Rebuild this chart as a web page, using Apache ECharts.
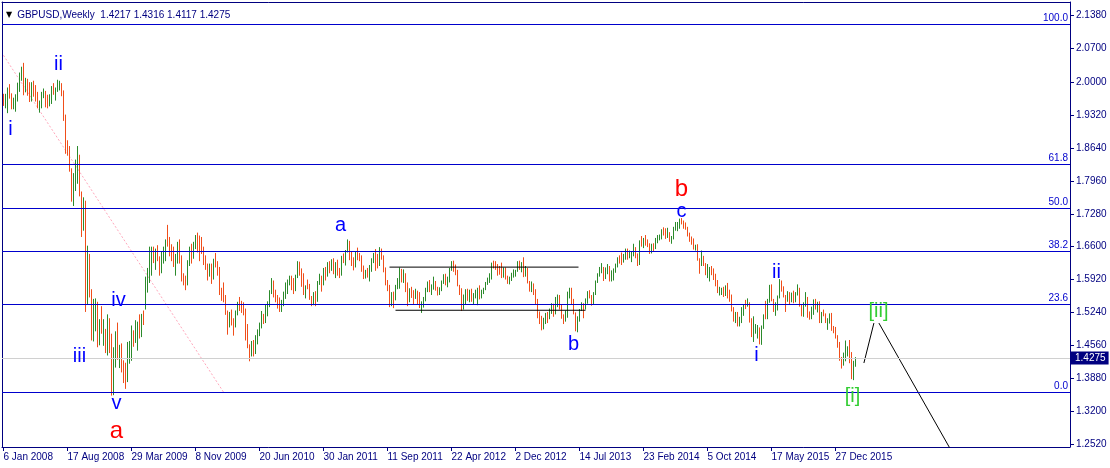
<!DOCTYPE html>
<html><head><meta charset="utf-8">
<script src="https://cdn.jsdelivr.net/npm/echarts/dist/echarts.min.js"></script>
<style>html,body{margin:0;padding:0;background:#fff}#c{width:1110px;height:468px}</style>
</head><body><div id="c"></div>
<script>
// ---- data (weekly GBPUSD bars, week 0 = 6 Jan 2008) ----
const symbolName = 'GBPUSD';
const timeframe = 'Weekly';
const opens = [
1.973,1.955,1.960,1.988,1.975,1.948,1.961,1.972,1.987,2.016,2.028,1.986,2.006,1.982,1.970,1.995,1.977,1.972,1.950,1.955,1.975,1.981,1.968,1.955,1.970,1.990,1.980,1.985,1.992,1.996,1.981,1.930,1.865,1.860,1.820,1.770,1.790,1.822,1.844,1.770,1.720,1.735,1.560,1.615,1.565,1.478,1.496,1.536,1.466,1.510,1.470,1.482,
1.452,1.504,1.468,1.371,1.447,1.480,1.430,1.445,1.415,1.404,1.390,1.422,1.445,1.480,1.470,1.455,1.505,1.478,1.513,1.535,1.590,1.600,1.618,1.648,1.640,1.650,1.636,1.615,1.646,1.650,1.670,1.668,1.655,1.650,1.630,1.636,1.665,1.630,1.598,1.590,1.588,1.630,1.655,1.646,1.665,1.668,1.660,1.655,1.650,1.627,1.615,1.605,
1.615,1.600,1.630,1.620,1.612,1.563,1.562,1.554,1.520,1.507,1.510,1.502,1.497,1.523,1.540,1.537,1.536,1.530,1.480,1.452,1.440,1.452,1.446,1.467,1.480,1.502,1.519,1.510,1.528,1.540,1.568,1.590,1.560,1.553,1.550,1.545,1.547,1.565,1.580,1.588,1.596,1.588,1.570,1.600,1.625,1.607,1.600,1.563,1.578,1.577,1.553,1.546,
1.560,1.550,1.586,1.595,1.585,1.613,1.600,1.624,1.614,1.632,1.606,1.624,1.606,1.604,1.634,1.633,1.651,1.670,1.640,1.629,1.626,1.646,1.642,1.638,1.619,1.598,1.606,1.601,1.615,1.629,1.645,1.637,1.628,1.649,1.640,1.615,1.586,1.575,1.542,1.560,1.552,1.579,1.589,1.610,1.600,1.601,1.580,1.548,1.564,1.558,1.555,1.569,
1.554,1.535,1.538,1.553,1.571,1.581,1.576,1.580,1.584,1.573,1.565,1.571,1.590,1.599,1.587,1.590,1.613,1.625,1.615,1.610,1.580,1.568,1.534,1.558,1.569,1.558,1.567,1.550,1.559,1.561,1.571,1.563,1.564,1.573,1.585,1.590,1.598,1.624,1.623,1.616,1.614,1.609,1.603,1.614,1.597,1.586,1.592,1.602,1.603,1.611,1.625,1.620,
1.624,1.607,1.608,1.586,1.571,1.583,1.565,1.548,1.519,1.504,1.492,1.511,1.520,1.519,1.530,1.536,1.530,1.551,1.555,1.536,1.518,1.515,1.520,1.567,1.570,1.549,1.521,1.488,1.507,1.530,1.538,1.536,1.550,1.565,1.559,1.549,1.564,1.587,1.602,1.612,1.616,1.596,1.615,1.618,1.591,1.600,1.613,1.621,1.637,1.636,1.630,1.636,
1.647,1.642,1.643,1.644,1.648,1.644,1.633,1.668,1.665,1.675,1.672,1.663,1.649,1.664,1.657,1.674,1.679,1.681,1.688,1.686,1.679,1.684,1.675,1.681,1.697,1.701,1.703,1.715,1.711,1.708,1.698,1.683,1.679,1.669,1.657,1.660,1.632,1.626,1.632,1.621,1.606,1.605,1.610,1.608,1.599,1.585,1.565,1.566,1.571,1.566,1.571,1.569,
1.558,1.527,1.512,1.518,1.500,1.506,1.524,1.539,1.538,1.543,1.505,1.482,1.485,1.487,1.491,1.462,1.496,1.518,1.514,1.545,1.573,1.548,1.528,1.530,1.557,1.588,1.574,1.560,1.551,1.560,1.551,1.561,1.548,1.564,1.570,1.539,1.517,1.543,1.553,1.519,1.518,1.532,1.546,1.536,1.543,1.504,1.523,1.519,1.503,1.508,1.514,1.491,
1.490,1.474,1.455,1.425,1.423,1.425,1.448,1.450,1.440,1.387,1.4217];
const highs = [
1.976,1.976,1.989,1.996,1.977,1.968,1.975,1.999,2.020,2.032,2.040,2.009,2.007,2.000,2.000,2.003,1.994,1.980,1.962,1.980,1.987,1.982,1.974,1.975,1.992,1.998,1.989,2.005,2.003,1.998,1.983,1.933,1.880,1.868,1.822,1.812,1.840,1.868,1.850,1.774,1.762,1.755,1.662,1.645,1.572,1.552,1.553,1.546,1.510,1.537,1.510,1.490,
1.520,1.512,1.480,1.452,1.485,1.503,1.457,1.460,1.425,1.420,1.463,1.465,1.497,1.487,1.508,1.505,1.520,1.521,1.528,1.598,1.616,1.660,1.660,1.660,1.656,1.663,1.640,1.650,1.660,1.675,1.705,1.680,1.665,1.660,1.645,1.670,1.675,1.642,1.605,1.600,1.632,1.660,1.666,1.670,1.684,1.689,1.683,1.680,1.660,1.642,1.625,1.625,
1.625,1.635,1.647,1.630,1.618,1.575,1.586,1.560,1.528,1.525,1.530,1.512,1.528,1.546,1.556,1.548,1.545,1.532,1.500,1.458,1.465,1.467,1.477,1.489,1.503,1.527,1.521,1.540,1.547,1.570,1.595,1.590,1.571,1.560,1.555,1.550,1.567,1.586,1.592,1.600,1.600,1.595,1.602,1.630,1.629,1.615,1.605,1.580,1.592,1.583,1.558,1.566,
1.568,1.589,1.604,1.600,1.616,1.618,1.628,1.630,1.634,1.636,1.628,1.633,1.616,1.641,1.646,1.653,1.675,1.672,1.651,1.638,1.651,1.658,1.647,1.642,1.621,1.612,1.616,1.622,1.636,1.647,1.655,1.645,1.659,1.656,1.642,1.617,1.591,1.581,1.566,1.567,1.581,1.595,1.617,1.614,1.613,1.605,1.586,1.574,1.577,1.570,1.573,1.569,
1.566,1.547,1.556,1.575,1.588,1.591,1.582,1.598,1.589,1.577,1.576,1.590,1.603,1.604,1.598,1.616,1.630,1.631,1.623,1.612,1.581,1.574,1.561,1.572,1.573,1.571,1.573,1.564,1.571,1.575,1.580,1.571,1.575,1.587,1.596,1.605,1.627,1.631,1.630,1.624,1.620,1.627,1.617,1.617,1.600,1.598,1.606,1.613,1.612,1.630,1.631,1.628,
1.638,1.620,1.616,1.589,1.588,1.584,1.572,1.552,1.526,1.517,1.513,1.523,1.525,1.532,1.543,1.542,1.556,1.561,1.560,1.540,1.520,1.528,1.567,1.575,1.575,1.552,1.524,1.516,1.531,1.545,1.543,1.553,1.568,1.570,1.560,1.566,1.590,1.605,1.618,1.626,1.618,1.617,1.624,1.620,1.611,1.615,1.625,1.638,1.642,1.648,1.645,1.656,
1.656,1.652,1.649,1.666,1.659,1.646,1.673,1.682,1.678,1.684,1.675,1.667,1.666,1.667,1.678,1.684,1.685,1.696,1.700,1.698,1.699,1.690,1.682,1.701,1.711,1.711,1.718,1.719,1.714,1.710,1.701,1.689,1.681,1.677,1.664,1.665,1.636,1.652,1.641,1.626,1.624,1.618,1.620,1.615,1.604,1.591,1.577,1.575,1.577,1.580,1.585,1.571,
1.561,1.535,1.525,1.525,1.515,1.535,1.540,1.550,1.553,1.545,1.512,1.516,1.500,1.498,1.493,1.497,1.520,1.548,1.552,1.581,1.582,1.552,1.545,1.559,1.593,1.590,1.578,1.560,1.568,1.566,1.565,1.569,1.566,1.582,1.575,1.541,1.545,1.566,1.556,1.526,1.536,1.551,1.552,1.546,1.547,1.525,1.530,1.522,1.512,1.522,1.523,1.496,
1.494,1.477,1.463,1.432,1.441,1.466,1.454,1.467,1.442,1.424,1.4316];
const lows = [
1.951,1.946,1.936,1.966,1.944,1.944,1.939,1.960,1.980,2.003,1.973,1.979,1.972,1.959,1.960,1.970,1.960,1.946,1.937,1.946,1.967,1.948,1.946,1.950,1.955,1.974,1.962,1.980,1.983,1.971,1.920,1.852,1.848,1.815,1.753,1.744,1.775,1.790,1.764,1.680,1.693,1.525,1.540,1.555,1.466,1.464,1.485,1.452,1.456,1.480,1.455,1.440,
1.435,1.440,1.352,1.353,1.410,1.426,1.409,1.400,1.378,1.366,1.380,1.418,1.424,1.453,1.461,1.445,1.470,1.473,1.498,1.530,1.565,1.585,1.600,1.626,1.612,1.630,1.600,1.605,1.625,1.630,1.660,1.640,1.630,1.618,1.600,1.625,1.625,1.588,1.580,1.570,1.580,1.620,1.625,1.635,1.655,1.648,1.630,1.645,1.622,1.612,1.590,1.598,
1.583,1.592,1.617,1.600,1.560,1.548,1.545,1.519,1.478,1.493,1.497,1.476,1.493,1.518,1.527,1.523,1.518,1.466,1.450,1.423,1.433,1.433,1.438,1.458,1.475,1.491,1.500,1.502,1.516,1.535,1.562,1.555,1.545,1.532,1.525,1.525,1.537,1.552,1.562,1.580,1.570,1.562,1.568,1.595,1.600,1.577,1.560,1.553,1.572,1.550,1.537,1.539,
1.537,1.546,1.581,1.567,1.580,1.590,1.598,1.605,1.610,1.603,1.595,1.600,1.595,1.600,1.626,1.621,1.648,1.632,1.620,1.611,1.617,1.632,1.630,1.608,1.593,1.594,1.596,1.588,1.608,1.626,1.610,1.615,1.620,1.633,1.607,1.580,1.568,1.535,1.537,1.533,1.549,1.572,1.573,1.586,1.585,1.566,1.537,1.545,1.554,1.540,1.552,1.541,
1.533,1.523,1.534,1.547,1.566,1.566,1.560,1.571,1.569,1.559,1.560,1.568,1.583,1.580,1.576,1.586,1.610,1.608,1.601,1.578,1.560,1.527,1.530,1.540,1.548,1.545,1.546,1.540,1.553,1.539,1.551,1.553,1.562,1.570,1.581,1.585,1.592,1.615,1.612,1.600,1.602,1.595,1.596,1.592,1.583,1.582,1.589,1.596,1.598,1.608,1.612,1.607,
1.597,1.598,1.584,1.567,1.566,1.560,1.541,1.512,1.500,1.487,1.489,1.500,1.502,1.510,1.521,1.515,1.520,1.535,1.530,1.511,1.500,1.505,1.513,1.553,1.540,1.520,1.485,1.483,1.505,1.527,1.512,1.530,1.542,1.553,1.538,1.540,1.560,1.585,1.598,1.605,1.589,1.593,1.603,1.588,1.588,1.590,1.606,1.617,1.625,1.622,1.627,1.633,
1.633,1.636,1.628,1.640,1.636,1.620,1.622,1.660,1.657,1.662,1.659,1.645,1.646,1.649,1.655,1.667,1.673,1.675,1.683,1.676,1.678,1.670,1.666,1.675,1.693,1.692,1.697,1.706,1.697,1.695,1.681,1.670,1.664,1.654,1.652,1.631,1.604,1.620,1.620,1.601,1.595,1.588,1.601,1.591,1.578,1.564,1.559,1.560,1.556,1.558,1.553,1.546,
1.526,1.505,1.502,1.495,1.495,1.502,1.517,1.531,1.536,1.503,1.473,1.463,1.480,1.470,1.458,1.457,1.490,1.510,1.510,1.544,1.547,1.525,1.517,1.528,1.553,1.567,1.555,1.525,1.546,1.540,1.545,1.543,1.545,1.559,1.536,1.516,1.515,1.536,1.513,1.509,1.510,1.519,1.530,1.524,1.502,1.502,1.516,1.502,1.488,1.501,1.486,1.481,
1.470,1.451,1.424,1.408,1.414,1.423,1.433,1.419,1.386,1.384,1.4117];
const closes = [
1.955,1.960,1.988,1.975,1.948,1.961,1.972,1.987,2.016,2.028,1.986,2.006,1.982,1.970,1.995,1.977,1.972,1.950,1.955,1.975,1.981,1.968,1.955,1.970,1.990,1.980,1.985,2.000,1.996,1.981,1.930,1.865,1.860,1.820,1.770,1.790,1.822,1.844,1.770,1.720,1.735,1.560,1.615,1.565,1.478,1.496,1.536,1.466,1.496,1.490,1.482,1.452,
1.504,1.468,1.371,1.447,1.480,1.440,1.445,1.415,1.400,1.390,1.450,1.445,1.480,1.470,1.480,1.466,1.478,1.513,1.505,1.590,1.612,1.618,1.648,1.640,1.650,1.636,1.615,1.646,1.650,1.670,1.668,1.655,1.650,1.630,1.636,1.665,1.630,1.598,1.588,1.588,1.630,1.655,1.646,1.665,1.668,1.660,1.655,1.650,1.627,1.615,1.605,1.615,
1.600,1.630,1.620,1.612,1.563,1.562,1.554,1.520,1.507,1.510,1.502,1.497,1.523,1.540,1.537,1.536,1.530,1.480,1.452,1.440,1.452,1.446,1.467,1.480,1.502,1.519,1.510,1.528,1.540,1.568,1.590,1.560,1.553,1.550,1.545,1.547,1.565,1.580,1.588,1.596,1.588,1.570,1.600,1.625,1.607,1.600,1.563,1.578,1.577,1.553,1.546,1.560,
1.550,1.586,1.595,1.585,1.613,1.600,1.624,1.614,1.632,1.606,1.624,1.606,1.604,1.634,1.633,1.651,1.670,1.640,1.629,1.626,1.646,1.642,1.638,1.619,1.598,1.606,1.601,1.615,1.629,1.645,1.637,1.628,1.649,1.640,1.615,1.586,1.575,1.542,1.560,1.552,1.579,1.589,1.610,1.600,1.601,1.580,1.548,1.564,1.558,1.555,1.569,1.554,
1.535,1.538,1.553,1.571,1.581,1.576,1.580,1.584,1.573,1.565,1.571,1.590,1.599,1.587,1.590,1.613,1.625,1.615,1.610,1.580,1.568,1.534,1.558,1.569,1.558,1.567,1.550,1.559,1.561,1.571,1.563,1.564,1.573,1.585,1.590,1.598,1.624,1.623,1.616,1.614,1.609,1.603,1.614,1.597,1.586,1.592,1.602,1.603,1.611,1.625,1.620,1.624,
1.607,1.608,1.586,1.571,1.583,1.565,1.548,1.519,1.504,1.492,1.511,1.520,1.519,1.530,1.536,1.530,1.551,1.555,1.536,1.518,1.515,1.520,1.567,1.570,1.549,1.521,1.488,1.507,1.530,1.538,1.536,1.550,1.565,1.559,1.549,1.564,1.587,1.602,1.612,1.616,1.596,1.615,1.618,1.591,1.600,1.613,1.621,1.637,1.636,1.630,1.636,1.647,
1.642,1.643,1.644,1.648,1.644,1.633,1.668,1.665,1.675,1.672,1.663,1.649,1.664,1.657,1.674,1.679,1.681,1.688,1.686,1.679,1.684,1.675,1.681,1.697,1.701,1.703,1.715,1.711,1.708,1.698,1.683,1.679,1.669,1.657,1.660,1.632,1.626,1.632,1.621,1.606,1.608,1.610,1.608,1.599,1.585,1.565,1.566,1.571,1.566,1.571,1.569,1.553,
1.527,1.516,1.518,1.500,1.506,1.524,1.539,1.538,1.543,1.505,1.482,1.485,1.487,1.491,1.462,1.496,1.518,1.514,1.545,1.573,1.548,1.528,1.530,1.557,1.588,1.574,1.560,1.551,1.560,1.551,1.561,1.548,1.564,1.570,1.539,1.517,1.543,1.553,1.519,1.518,1.532,1.546,1.536,1.543,1.504,1.523,1.519,1.503,1.508,1.514,1.491,1.490,
1.474,1.455,1.425,1.423,1.425,1.450,1.450,1.440,1.387,1.422,1.4275];

// x-axis tick labels (bar index -> date text)
const dateTickIndex = [0,32,64,96,128,160,192,224,256,288,320,352,384,416];
const dateTickLabels = ['6 Jan 2008','17 Aug 2008','29 Mar 2009','8 Nov 2009','20 Jun 2010','30 Jan 2011','11 Sep 2011','22 Apr 2012','2 Dec 2012','14 Jul 2013','23 Feb 2014','5 Oct 2014','17 May 2015','27 Dec 2015'];
// price-axis tick labels
const priceTicks = [1.2520,1.3200,1.3880,1.4560,1.5240,1.5920,1.6600,1.7280,1.7960,1.8640,1.9320,2.0000,2.0700,2.1380];

// Fibonacci retracement levels
const fibPrices = [1.3574,1.5370,1.6481,1.7379,1.8276,2.1183];
const fibLabels = ['0.0','23.6','38.2','50.0','61.8','100.0'];

// drawn objects (bar index, price)
const channelUpper = [[193,1.6177],[287.5,1.6177]];
const channelLower = [[196,1.5285],[291,1.5285]];
const pinkTrend = [[0,2.0555],[110,1.3594]];
const projUp = [[430.2,1.4194],[435.2,1.5020]];
const projDown = [[437.7,1.5020],[476,1.2228]];

// wave labels
const annX = [3.5,27.5,38,57.5,56.5,56.5,168.5,285,339,339,386.5,376.5,437.5,424.5];
const annY = [1.902,2.036,1.433,1.548,1.335,1.278,1.703,1.457,1.778,1.732,1.606,1.435,1.527,1.350];
const annText = ['i','ii','iii','iv','v','a','a','b','b','c','ii','i','[ii]','[i]'];
const annKind = ['blue','blue','blue','blue','blue','red','blue','blue','red','blue','blue','blue','green','green'];

// ---- chart ----
const GREEN = '#2b8a2b', RED = '#f04e1a', NAVY = '#000080', FIB = '#0000cd';
const kindStyle = {
  blue: {fill:'#0000ff', fontSize:20},
  red: {fill:'#ff0000', fontSize:24},
  green: {fill:'#32cd32', fontSize:20}
};
const FONT = 'Liberation Sans, Arial, sans-serif';
const last = closes.length - 1;
const f4 = v => v.toFixed(4);

// high-low strokes as broken polylines, one per bar direction
const upPts = [], downPts = [];
closes.forEach((c, i) => {
  const target = c >= opens[i] ? upPts : downPts;
  target.push([i, lows[i]], [i, highs[i]], [i, '-']);
});

function seg(pts, lineStyle, z){
  return {type:'line', data:pts, showSymbol:false, symbol:'none', silent:true, clip:true,
          animation:false, z:z, lineStyle:lineStyle};
}
function barSeries(pts, color){
  return {type:'line', data:pts, showSymbol:false, symbol:'none', silent:true, clip:true,
          connectNulls:false, sampling:null, animation:false, z:3,
          lineStyle:{color:color, width:1, cap:'butt'}};
}

const XMIN = -0.75, XMAX = 533.25;
const chart = echarts.init(document.getElementById('c'), null, {renderer:'canvas'});
const option = {
  animation:false,
  backgroundColor:'#ffffff',
  title:{
    text:'{tri|▼} {txt|' + symbolName + ',' + timeframe + '  ' + f4(opens[last]) + ' ' + f4(highs[last]) + ' ' + f4(lows[last]) + ' ' + f4(closes[last]) + '}',
    left:6, top:6, padding:0,
    textStyle:{fontWeight:'normal', rich:{
      tri:{fontSize:8, color:'#000000', fontFamily:'DejaVu Sans', fontWeight:'normal'},
      txt:{fontSize:10, color:NAVY, fontFamily:FONT, fontWeight:'normal'}
    }}
  },
  grid:{left:2, right:40, top:2, bottom:21, containLabel:false},
  xAxis:[{
    type:'value', min:XMIN, max:XMAX, position:'bottom',
    axisLine:{show:true, onZero:false, lineStyle:{color:NAVY, width:1}},
    axisTick:{show:true, customValues:dateTickIndex, length:4, lineStyle:{color:NAVY}},
    axisLabel:{show:true, customValues:dateTickIndex, align:'left', margin:5, color:NAVY, fontSize:10, fontFamily:FONT,
      formatter:v => { const k = dateTickIndex.indexOf(Math.round(v)); return k >= 0 ? dateTickLabels[k] : ''; }},
    splitLine:{show:false}
  },{
    type:'value', min:XMIN, max:XMAX, position:'top',
    axisLine:{show:true, onZero:false, lineStyle:{color:NAVY, width:1}},
    axisTick:{show:false}, axisLabel:{show:false}, splitLine:{show:false}
  }],
  yAxis:[{
    type:'value', min:1.2458, max:2.1658, position:'right',
    axisLine:{show:true, onZero:false, lineStyle:{color:NAVY, width:1}},
    axisTick:{show:true, customValues:priceTicks, length:4, lineStyle:{color:NAVY}},
    axisLabel:{show:true, customValues:priceTicks, margin:6, color:NAVY, fontSize:10, fontFamily:FONT,
      formatter:v => f4(v)},
    splitLine:{show:false}
  },{
    type:'value', min:1.2458, max:2.1658, position:'left',
    axisLine:{show:true, onZero:false, lineStyle:{color:NAVY, width:1}},
    axisTick:{show:false}, axisLabel:{show:false}, splitLine:{show:false}
  }],
  series:[
    {
      type:'line', data:[], silent:true, z:1,
      markLine:{
        silent:true, symbol:['none','none'], animation:false,
        data: fibPrices.map((v,k) => ({
          yAxis:v,
          lineStyle:{color:FIB, width:1, type:'solid'},
          label:{show:true, position:'insideEndTop', formatter:fibLabels[k], color:FIB, fontSize:10, fontFamily:FONT, distance:[2,1]}
        })).concat([{
          yAxis:closes[last],
          lineStyle:{color:'#d0d0d0', width:1, type:'solid'},
          label:{show:true, position:'end', formatter:f4(closes[last]), color:'#ffffff', backgroundColor:NAVY,
                 fontSize:10, fontFamily:FONT, padding:[2,3,1,4], distance:1}
        }])
      }
    },
    seg(pinkTrend, {color:'#ffa8bc', width:1, type:[2,2]}, 2),
    barSeries(upPts, GREEN),
    barSeries(downPts, RED),
    seg(channelUpper, {color:'#000000', width:1}, 4),
    seg(channelLower, {color:'#000000', width:1}, 4),
    seg(projUp, {color:'#000000', width:1}, 4),
    seg(projDown, {color:'#000000', width:1}, 4),
    {
      type:'custom', z:5, clip:false, animation:false, silent:true,
      data:annX.map((x,k) => [x, annY[k]]), encode:{x:0, y:1},
      renderItem:(params, api) => {
        const k = params.dataIndex;
        const p = api.coord([api.value(0), api.value(1)]);
        const st = kindStyle[annKind[k]];
        return {type:'text', x:p[0], y:p[1],
          style:{text:annText[k], fill:st.fill, fontSize:st.fontSize, fontFamily:FONT,
                 align:'center', verticalAlign:'middle', textAlign:'center', textVerticalAlign:'middle'}};
      }
    }
  ]
};
chart.setOption(option);
</script>
</body></html>
